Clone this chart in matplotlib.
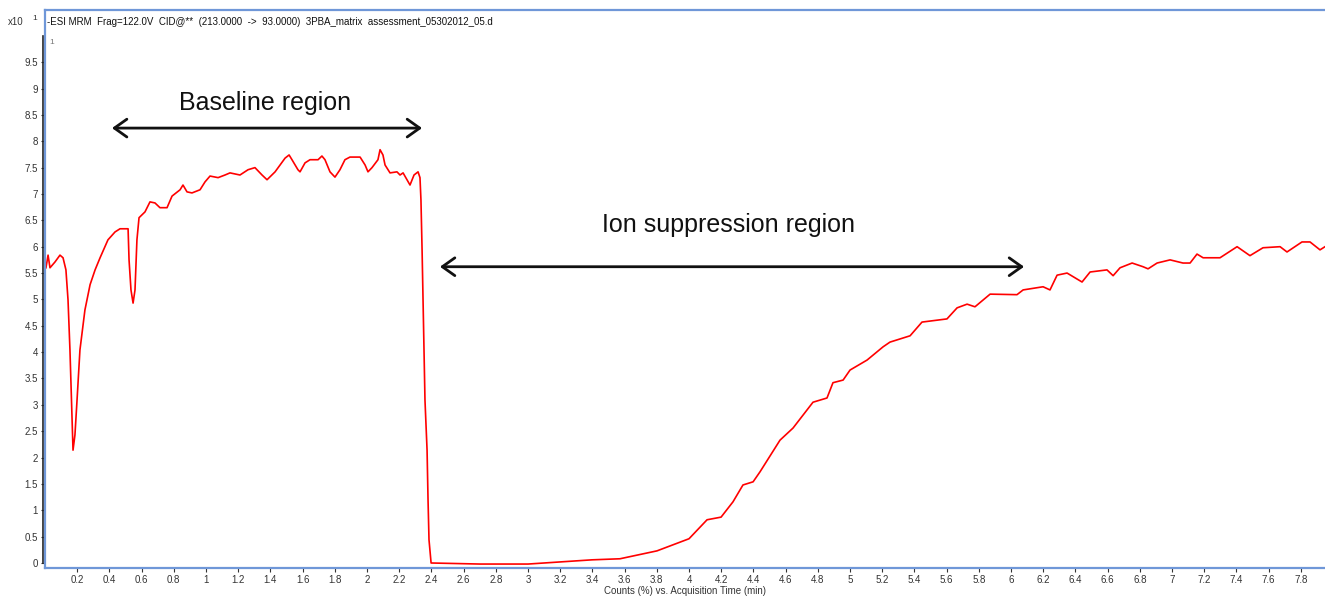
import matplotlib
matplotlib.use("Agg")
import matplotlib.pyplot as plt
import matplotlib.transforms as mtransforms
from matplotlib.patches import FancyArrowPatch
from matplotlib.lines import Line2D
import numpy as np

plt.rcParams['font.family'] = ['Liberation Sans', 'DejaVu Sans']

# acquisition time (min) and counts (x10^1)
time_min = [0.006, 0.019, 0.031, 0.062, 0.093, 0.112, 0.130, 0.143, 0.155, 0.168,
            0.174, 0.186, 0.199, 0.217, 0.248, 0.280, 0.311, 0.342, 0.391, 0.435,
            0.466, 0.516, 0.522, 0.534, 0.547, 0.559, 0.571, 0.584, 0.621, 0.652,
            0.683, 0.714, 0.758, 0.789, 0.839, 0.857, 0.882, 0.913, 0.963, 0.994,
            1.025, 1.075, 1.118, 1.149, 1.211, 1.261, 1.304, 1.348, 1.379, 1.429,
            1.460, 1.491, 1.516, 1.534, 1.571, 1.584, 1.615, 1.646, 1.696, 1.720,
            1.739, 1.770, 1.801, 1.832, 1.863, 1.894, 1.957, 1.988, 2.006, 2.031,
            2.068, 2.081, 2.099, 2.112, 2.143, 2.186, 2.205, 2.224, 2.248, 2.267,
            2.292, 2.317, 2.329, 2.335, 2.342, 2.348, 2.354, 2.360, 2.373, 2.379,
            2.385, 2.398, 2.702, 3.000, 3.199, 3.398, 3.571, 3.801, 4.000, 4.112,
            4.199, 4.273, 4.335, 4.398, 4.441, 4.565, 4.646, 4.770, 4.857, 4.894,
            4.957, 5.000, 5.106, 5.205, 5.248, 5.373, 5.447, 5.602, 5.665, 5.727,
            5.776, 5.870, 6.037, 6.075, 6.199, 6.242, 6.286, 6.348, 6.441, 6.491,
            6.596, 6.634, 6.677, 6.752, 6.820, 6.851, 6.907, 6.988, 7.068, 7.112,
            7.155, 7.193, 7.298, 7.404, 7.484, 7.565, 7.671, 7.714, 7.807, 7.857,
            7.919, 7.950]
counts = [5.60, 5.84, 5.60, 5.71, 5.84, 5.79, 5.56, 4.99, 4.04, 2.71,
          2.14, 2.43, 3.09, 4.04, 4.80, 5.28, 5.56, 5.79, 6.13, 6.28,
          6.34, 6.34, 5.75, 5.18, 4.93, 5.18, 6.13, 6.55, 6.66, 6.85,
          6.83, 6.74, 6.74, 6.96, 7.08, 7.17, 7.04, 7.02, 7.08, 7.23,
          7.34, 7.31, 7.36, 7.40, 7.36, 7.46, 7.50, 7.36, 7.27, 7.42,
          7.55, 7.68, 7.74, 7.65, 7.46, 7.42, 7.59, 7.65, 7.65, 7.72,
          7.65, 7.42, 7.32, 7.46, 7.65, 7.70, 7.70, 7.55, 7.42, 7.50,
          7.65, 7.84, 7.74, 7.55, 7.40, 7.42, 7.36, 7.40, 7.27, 7.17,
          7.36, 7.42, 7.31, 6.89, 5.94, 4.99, 4.04, 3.09, 2.14, 1.20,
          0.44, 0.00, -0.02, -0.02, 0.02, 0.06, 0.08, 0.23, 0.46, 0.82,
          0.87, 1.16, 1.48, 1.54, 1.73, 2.33, 2.56, 3.05, 3.13, 3.42,
          3.47, 3.66, 3.85, 4.10, 4.19, 4.31, 4.57, 4.63, 4.84, 4.91,
          4.86, 5.10, 5.09, 5.18, 5.24, 5.18, 5.46, 5.50, 5.33, 5.52,
          5.56, 5.45, 5.60, 5.69, 5.62, 5.58, 5.69, 5.75, 5.69, 5.69,
          5.86, 5.79, 5.79, 6.00, 5.83, 5.98, 6.00, 5.90, 6.09, 6.09,
          5.94, 6.00]

title = "-ESI MRM  Frag=122.0V  CID@**  (213.0000  ->  93.0000)  3PBA_matrix  assessment_05302012_05.d"
xticks = [round(0.2 * i, 1) for i in range(1, 40)]
yticks = [0.5 * i for i in range(0, 20)]

def fmt(v):
    return str(int(v)) if float(v).is_integer() else str(v)

fig = plt.figure(figsize=(13.25, 5.98), dpi=100)
ax = fig.add_axes([45 / 1325, 30 / 598, 1280 / 1325, 558 / 598])

ax.plot(time_min, counts, color='#ff0000', lw=1.2)

ax.set_xlim(0, 7.95)
ax.set_ylim(-0.095, 10.49)

blue = '#6f97d8'
for side in ['left', 'bottom', 'top']:
    ax.spines[side].set_color(blue)
    ax.spines[side].set_linewidth(1.6)
ax.spines['right'].set_visible(False)

ax.set_xticks(xticks)
ax.set_xticklabels([fmt(v) for v in xticks], fontsize=7, color='#333333')
ax.set_yticks(yticks)
ax.set_yticklabels([fmt(v) for v in yticks], fontsize=7, color='#333333')
ax.tick_params(axis='x', direction='out', length=3, pad=2, color='#333333')
ax.tick_params(axis='y', direction='out', length=3, pad=2, color='#333333')

# black y axis line just left of the blue frame
trans = mtransforms.blended_transform_factory(ax.transAxes, ax.transData) + \
    mtransforms.ScaledTranslation(-2 / 100, 0, fig.dpi_scale_trans)
ax.add_line(Line2D([0, 0], [0, 10], color='#222222', lw=1.2,
                   transform=trans, clip_on=False))

ax.set_xlabel("Counts (%) vs. Acquisition Time (min)", fontsize=7,
              color='#333333', labelpad=1)

fig.text(8 / 1325, 1 - 22 / 598, "x10", fontsize=7, color='#333333', va='center')
fig.text(32 / 1325, 1 - 18 / 598, "1", fontsize=6, color='#333333', va='center')
ax.text(2 / 1280, 1 - 12 / 558, title, transform=ax.transAxes, fontsize=7,
        color='#111111', va='center', ha='left')
ax.text(4 / 1280, 1 - 33 / 558, "1", transform=ax.transAxes, fontsize=6,
        color='#777777', va='center', ha='left')

# annotations
ax.text(1.366, 8.73, "Baseline region", fontsize=18, ha='center', va='center',
        color='#111111')
ax.text(4.248, 6.41, "Ion suppression region", fontsize=18, ha='center',
        va='center', color='#111111')
for x0, x1, y in [(0.416, 2.342, 8.25), (2.453, 6.081, 5.62)]:
    ax.add_patch(FancyArrowPatch((x0, y), (x1, y),
                                 arrowstyle='<->,head_length=0.45,head_width=0.32',
                                 mutation_scale=20, lw=2, color='#111111',
                                 shrinkA=0, shrinkB=0))

fig.savefig("out.png", dpi=100)
